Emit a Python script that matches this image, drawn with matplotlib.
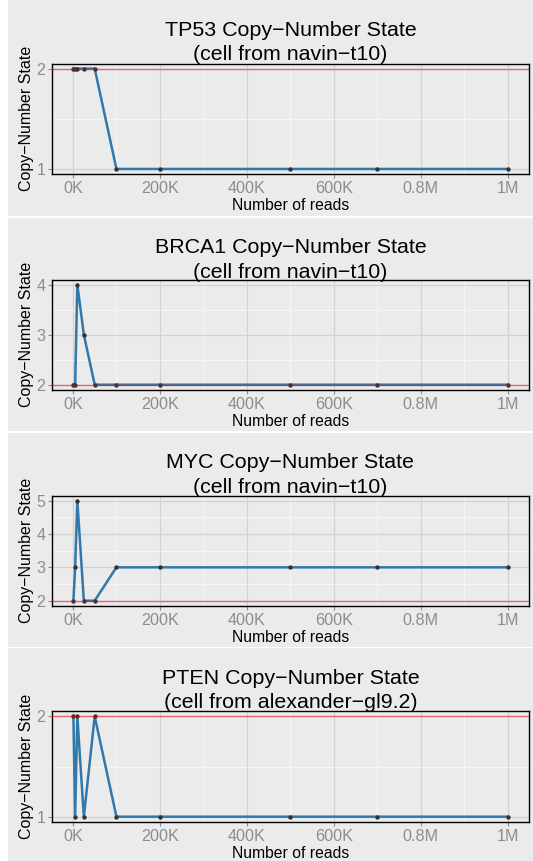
import matplotlib
matplotlib.use("Agg")
import matplotlib.pyplot as plt
from matplotlib.patches import Rectangle
from matplotlib.ticker import FixedLocator

plt.rcParams['font.family'] = ['Liberation Sans', 'DejaVu Sans']

# Read depths (number of reads sampled)
reads = [1000, 5000, 10000, 25000, 50000, 100000, 200000, 500000, 700000, 1000000]

# Copy-number state called at each depth
tp53_state = [2, 2, 2, 2, 2, 1, 1, 1, 1, 1]
brca1_state = [2, 2, 4, 3, 2, 2, 2, 2, 2, 2]
myc_state = [2, 3, 5, 2, 2, 3, 3, 3, 3, 3]
pten_state = [2, 1, 2, 1, 2, 1, 1, 1, 1, 1]

genes = ["TP53", "BRCA1", "MYC", "PTEN"]
cells = ["navin−t10", "navin−t10", "navin−t10", "alexander−gl9.2"]
states = [tp53_state, brca1_state, myc_state, pten_state]
normal_state = 2

x_ticks = [0, 200000, 400000, 600000, 800000, 1000000]
x_tick_labels = ["0K", "200K", "400K", "600K", "0.8M", "1M"]

W, H = 533, 861
fig = plt.figure(figsize=(W / 100, H / 100), dpi=100)
fig.patch.set_facecolor("white")

BG = "#EBEBEB"
blocks = [(0, 216), (217.5, 431.3), (432.8, 646.5), (648, 861)]
panel_rows = [(63.6, 174.0), (279.6, 389.7), (495.6, 605.7), (711.3, 821.7)]
px_left, px_right = 51.7, 529.3


def fx(px):
    return px / W


def fy(py):
    return 1 - py / H


for (top, bot) in blocks:
    fig.patches.append(Rectangle((fx(8), fy(bot)), fx(W - 8), (bot - top) / H,
                                 transform=fig.transFigure, facecolor=BG,
                                 edgecolor="none", zorder=-10))

xmin, xmax = min(reads), max(reads)
xpad = 0.05 * (xmax - xmin)

for i, (gene, cell, st) in enumerate(zip(genes, cells, states)):
    top, bot = panel_rows[i]
    ax = fig.add_axes([fx(px_left), fy(bot), fx(px_right - px_left), (bot - top) / H])
    ax.set_zorder(5)
    ax.set_facecolor(BG)
    for s in ax.spines.values():
        s.set_color("black")
        s.set_linewidth(1.0)

    lo, hi = min(st + [normal_state]), max(st + [normal_state])
    ypad = 0.05 * (hi - lo)
    ax.set_ylim(lo - ypad, hi + ypad)
    ax.set_xlim(xmin - xpad, xmax + xpad)

    yt = list(range(lo, hi + 1))
    ax.set_yticks(yt)
    ax.yaxis.set_minor_locator(FixedLocator([v + 0.5 for v in yt[:-1]]))
    ax.set_xticks(x_ticks)
    ax.set_xticklabels(x_tick_labels)
    ax.xaxis.set_minor_locator(FixedLocator([100000, 300000, 500000, 700000, 900000]))

    ax.grid(which="major", color="#D2D2D2", linewidth=0.9)
    ax.grid(which="minor", color="#F7F7F7", linewidth=0.6)
    ax.set_axisbelow(True)

    ax.tick_params(which="major", length=3, width=0.8, color="#8A8A8A",
                   labelcolor="#8C8C8C", labelsize=11.6)
    ax.tick_params(axis="x", pad=2.2)
    ax.tick_params(axis="y", pad=1.5)
    ax.tick_params(which="minor", length=0)

    ax.plot(reads, st, color="#3278AA", linewidth=1.8, zorder=3, solid_joinstyle="round")
    ax.scatter(reads, st, s=10, color="#333333", zorder=4, linewidths=0)
    ax.axhline(normal_state, color="red", alpha=0.5, linewidth=1.0, zorder=5)

    ax.set_xlabel("Number of reads", fontsize=11.3, labelpad=1.5)
    ax.set_ylabel("Copy−Number State", fontsize=11.5, labelpad=2)

    btop = blocks[i][0]
    fig.text(fx((px_left + px_right) / 2), fy(btop + 42.4),
             f"{gene} Copy−Number State\n(cell from {cell})",
             ha="center", va="center", multialignment="center",
             fontsize=15.4, linespacing=1.38, zorder=6)

fig.savefig("out.png", dpi=100)
